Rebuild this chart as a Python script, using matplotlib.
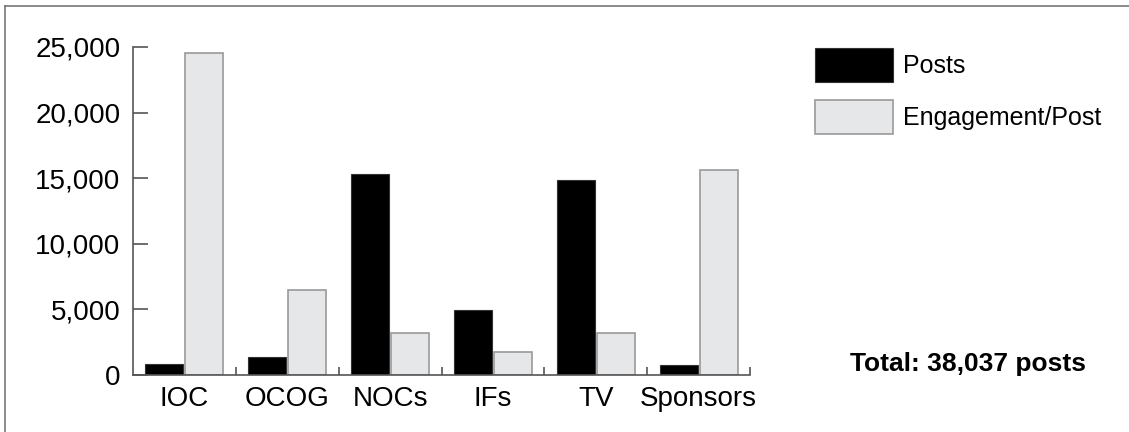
import matplotlib.pyplot as plt
import matplotlib.patches as mpatches
from matplotlib.lines import Line2D
from matplotlib.ticker import FuncFormatter
import numpy as np

plt.rcParams['font.family'] = ['Liberation Sans', 'DejaVu Sans']

# values
categories = ['IOC', 'OCOG', 'NOCs', 'IFs', 'TV', 'Sponsors']
posts = [830, 1370, 15320, 4950, 14830, 737]
engagement_per_post = [24550, 6450, 3170, 1770, 3170, 15620]
y_ticks = [0, 5000, 10000, 15000, 20000, 25000]
total_label = 'Total: 38,037 posts'

W, H = 1129, 432
fig = plt.figure(figsize=(W / 100, H / 100), dpi=100)
ax = fig.add_axes([133 / W, 57 / H, 617 / W, 328 / H])

x = np.arange(len(categories))
bw = 0.37
ax.bar(x - 0.195, posts, bw, color='black', edgecolor='#333333', linewidth=0.8, label='Posts')
ax.bar(x + 0.195, engagement_per_post, bw, color='#e6e7e8', edgecolor='#9a9a9a', linewidth=1.2,
       label='Engagement/Post')

ax.set_xlim(-0.5, len(categories) - 0.5)
ax.set_ylim(0, 25000)
ax.set_yticks(y_ticks)
ax.yaxis.set_major_formatter(FuncFormatter(lambda v, p: '{:,.0f}'.format(v)))
ax.set_xticks(x)
ax.set_xticklabels(categories)
ax.set_xticks(np.arange(0.5, len(categories)), minor=True)

for side in ['top', 'right']:
    ax.spines[side].set_visible(False)
for side in ['left', 'bottom']:
    ax.spines[side].set_color('#555555')
    ax.spines[side].set_linewidth(1.2)

ax.tick_params(axis='y', direction='in', length=11, width=1.2, color='#555555',
               labelsize=20, pad=9)
ax.tick_params(axis='x', which='major', length=0, labelsize=20, pad=8)
ax.tick_params(axis='x', which='minor', direction='in', length=6, width=1.2, color='#555555')

handles = [mpatches.Patch(facecolor='black', edgecolor='#333333', linewidth=0.8),
           mpatches.Patch(facecolor='#e6e7e8', edgecolor='#9a9a9a', linewidth=1.2)]
fig.legend(handles, ['Posts', 'Engagement/Post'], loc='upper left',
           bbox_to_anchor=(815 / W, 1 - 48 / H), frameon=False, borderpad=0,
           borderaxespad=0, fontsize=18, handlelength=3.12, handleheight=1.72,
           handletextpad=0.4, labelspacing=0.72)

fig.text(968 / W, 1 - 364 / H, total_label, fontsize=19, fontweight='bold',
         ha='center', va='center')

# outer frame (left and top edges visible)
fig.add_artist(Line2D([5 / W, 5 / W], [0, 1 - 6 / H], transform=fig.transFigure,
                      color='#777777', linewidth=1.2))
fig.add_artist(Line2D([5 / W, 1], [1 - 6 / H, 1 - 6 / H], transform=fig.transFigure,
                      color='#777777', linewidth=1.2))

fig.savefig('out.png', dpi=100)
